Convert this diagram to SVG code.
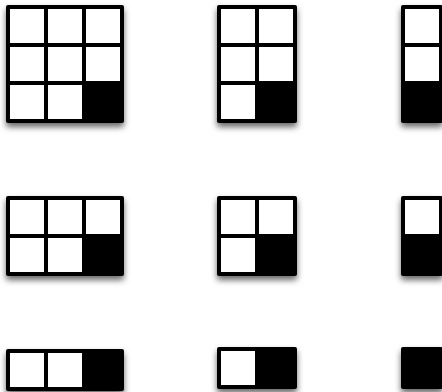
<svg xmlns="http://www.w3.org/2000/svg" width="442" height="392" viewBox="0 0 442 392">
  <defs>
    <filter id="sh" x="-25%" y="-25%" width="150%" height="160%">
      <feDropShadow dx="0" dy="4" stdDeviation="3" flood-color="#000" flood-opacity="0.6"/>
    </filter>
    <rect id="c" width="34" height="34" class="cell"/>
  </defs>
  <style>
    .frame { fill: #000; filter: url(#sh); }
    .cell { fill: #fff; }
  </style>
  <rect width="442" height="392" fill="#fff"/>

  <g id="grid-3x3" transform="translate(6,5)">
    <rect class="frame" width="118" height="118" rx="2"/>
    <use href="#c" x="4" y="4"/><use href="#c" x="42" y="4"/><use href="#c" x="80" y="4"/>
    <use href="#c" x="4" y="42"/><use href="#c" x="42" y="42"/><use href="#c" x="80" y="42"/>
    <use href="#c" x="4" y="80"/><use href="#c" x="42" y="80"/>
  </g>
  <g id="grid-2x3" transform="translate(217,5)">
    <rect class="frame" width="80" height="118" rx="2"/>
    <use href="#c" x="4" y="4"/><use href="#c" x="42" y="4"/>
    <use href="#c" x="4" y="42"/><use href="#c" x="42" y="42"/>
    <use href="#c" x="4" y="80"/>
  </g>
  <g id="grid-1x3" transform="translate(401,5)">
    <rect class="frame" width="42" height="118" rx="2"/>
    <use href="#c" x="4" y="4"/>
    <use href="#c" x="4" y="42"/>
  </g>

  <g id="grid-3x2" transform="translate(6,196)">
    <rect class="frame" width="118" height="80" rx="2"/>
    <use href="#c" x="4" y="4"/><use href="#c" x="42" y="4"/><use href="#c" x="80" y="4"/>
    <use href="#c" x="4" y="42"/><use href="#c" x="42" y="42"/>
  </g>
  <g id="grid-2x2" transform="translate(217,196)">
    <rect class="frame" width="80" height="80" rx="2"/>
    <use href="#c" x="4" y="4"/><use href="#c" x="42" y="4"/>
    <use href="#c" x="4" y="42"/>
  </g>
  <g id="grid-1x2" transform="translate(401,196)">
    <rect class="frame" width="42" height="80" rx="2"/>
    <use href="#c" x="4" y="4"/>
  </g>

  <g id="grid-3x1" transform="translate(6,349)">
    <rect class="frame" width="118" height="42" rx="2"/>
    <use href="#c" x="4" y="4"/><use href="#c" x="42" y="4"/>
  </g>
  <g id="grid-2x1" transform="translate(217,347)">
    <rect class="frame" width="80" height="42" rx="2"/>
    <use href="#c" x="4" y="4"/>
  </g>
  <g id="grid-1x1" transform="translate(401,347)">
    <rect class="frame" width="42" height="42" rx="2"/>
  </g>

  <g id="connectors"/>
</svg>
